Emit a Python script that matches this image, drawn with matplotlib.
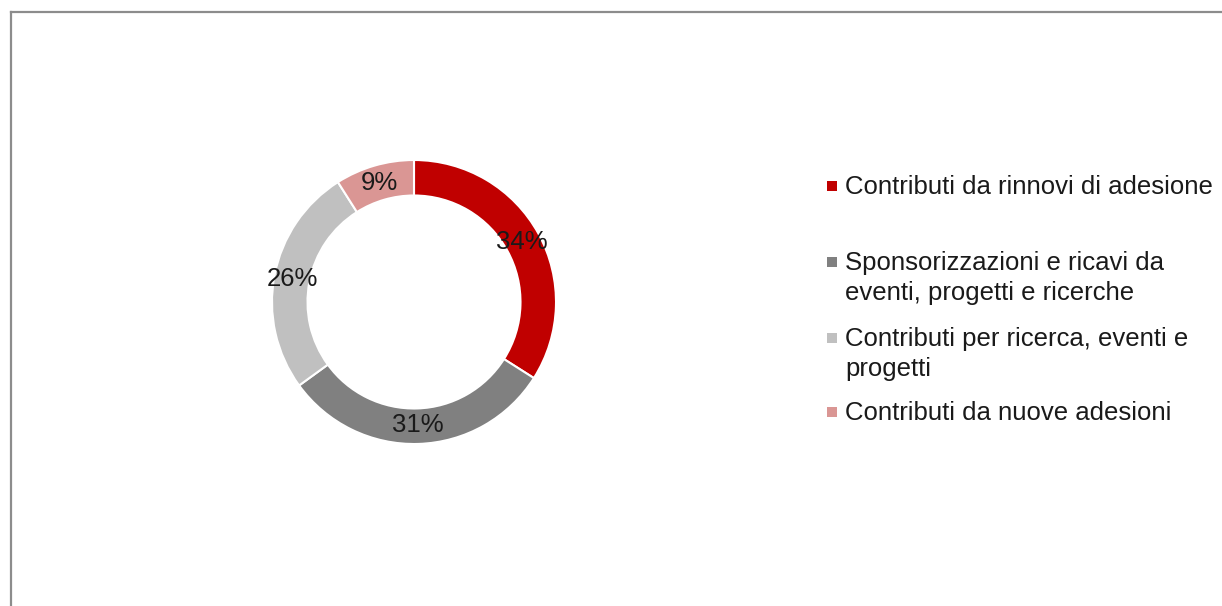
import matplotlib.pyplot as plt
from matplotlib.lines import Line2D
from matplotlib.patches import Rectangle

# Data
labels = [
    "Contributi da rinnovi di adesione",
    "Sponsorizzazioni e ricavi da\neventi, progetti e ricerche",
    "Contributi per ricerca, eventi e\nprogetti",
    "Contributi da nuove adesioni",
]
shares = [34, 31, 26, 9]
colors = ["#C00000", "#808080", "#C0C0C0", "#DA9694"]

W, H = 1222, 606
plt.rcParams["font.family"] = ["Liberation Sans", "DejaVu Sans"]
fig = plt.figure(figsize=(W / 100, H / 100), dpi=100)

# outer frame (only top and left visible)
fig.add_artist(Line2D([11 / W, 1], [1 - 12 / H, 1 - 12 / H], color="#8c8c8c", lw=1.6))
fig.add_artist(Line2D([11 / W, 11 / W], [0, 1 - 12 / H], color="#8c8c8c", lw=1.6))

# donut
cx, cy, r = 414, 302, 142
ax = fig.add_axes([(cx - r) / W, (H - cy - r) / H, 2 * r / W, 2 * r / H])
wedges, texts, autotexts = ax.pie(
    shares, colors=colors, startangle=90, counterclock=False, radius=1,
    autopct=lambda p: f"{p:.0f}%", pctdistance=0.87,
    wedgeprops=dict(width=0.25, edgecolor="white", linewidth=1.5),
    textprops=dict(fontsize=18.5, color="#1a1a1a"),
)
ax.set_xlim(-1, 1)
ax.set_ylim(-1, 1)
ax.set_aspect("equal")
ax.axis("off")

# legend drawn by hand (marker aligned with first line)
leg_y = [186, 262, 338, 412]
for lab, col, y in zip(labels, colors, leg_y):
    fig.add_artist(Rectangle((827 / W, 1 - (y + 5) / H), 10 / W, 10 / H,
                             transform=fig.transFigure, facecolor=col, edgecolor="none"))
    fig.text(845 / W, 1 - (y - 11) / H, lab, fontsize=18.5, color="#1a1a1a",
             va="top", ha="left", linespacing=1.3)

fig.savefig("out.png", dpi=100, facecolor="white")
